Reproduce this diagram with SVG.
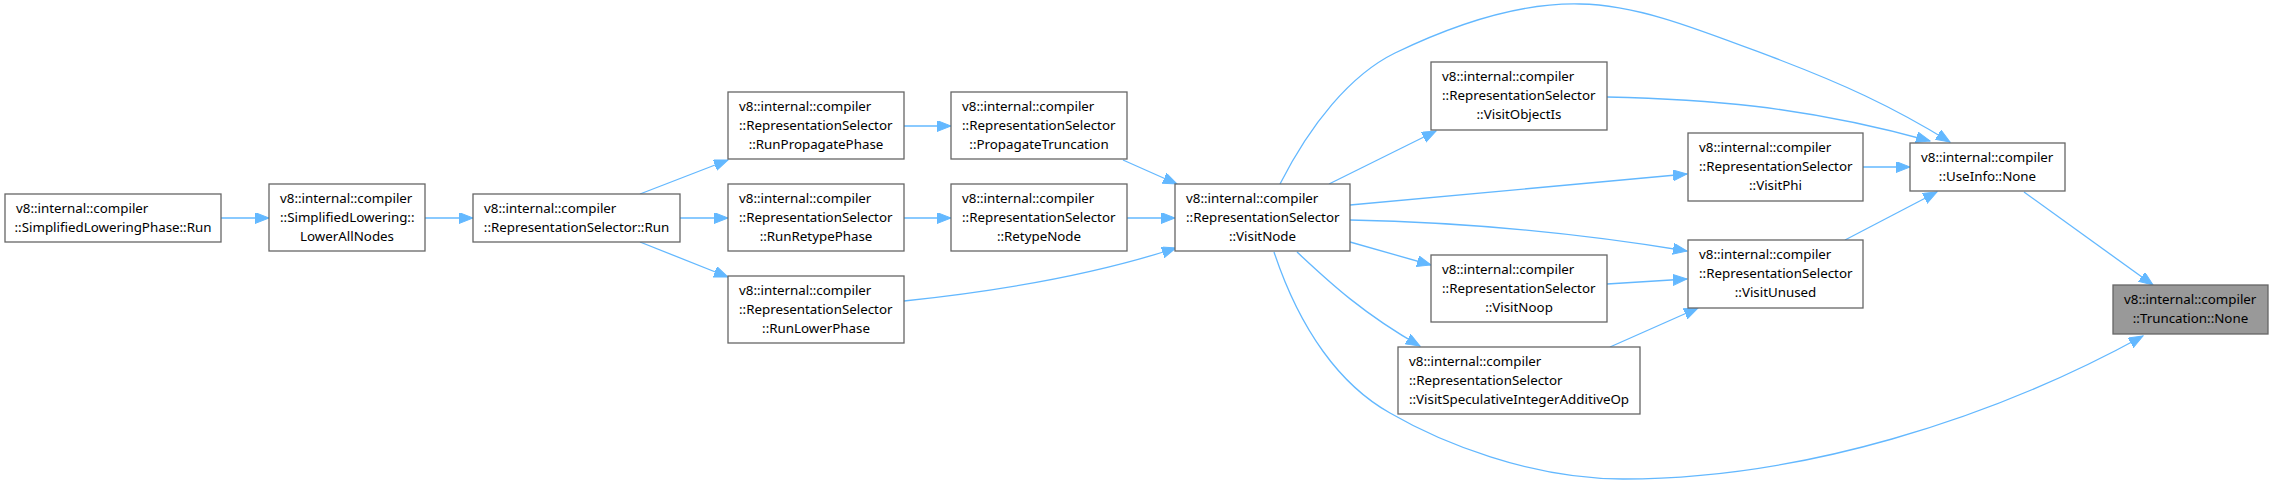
<svg xmlns="http://www.w3.org/2000/svg" width="2273" height="485" viewBox="0 0 2273 485">
<style>
.nd rect{fill:#ffffff;stroke:#666666;stroke-width:1.3}
.nd.tg rect{fill:#999999;stroke:#666666}
.nd text{font-family:"Noto Sans","Open Sans","DejaVu Sans",sans-serif;font-size:13.33px;fill:#000000}
.nd text.c{text-anchor:middle}
.ed path{fill:none;stroke:#63b8ff;stroke-width:1.3;marker-end:url(#ah)}
</style>
<defs>
<marker id="ah" markerUnits="userSpaceOnUse" markerWidth="15" markerHeight="12" refX="14" refY="5.5" orient="auto">
<path d="M0,0 L14,5.5 L0,11 z" fill="#63b8ff" stroke="#63b8ff" stroke-width="1"/>
</marker>
</defs>
<rect width="2273" height="485" fill="#ffffff"/>
<g id="edges" class="ed">
<path d="M221,218 L269,218"/>
<path d="M425,218 L473,218"/>
<path d="M640,194 L728,160"/>
<path d="M680,218 L728,218"/>
<path d="M640,242 L728,277"/>
<path d="M904,126 L951,126"/>
<path d="M904,218 L951,218"/>
<path d="M1123,160 L1177,184"/>
<path d="M1127,218 L1175,218"/>
<path d="M904,301 C990,292 1090,276 1176,248"/>
<path d="M1329,184 L1436,131"/>
<path d="M1280,184 C1310,125 1350,75 1395,53 C1480,12 1540,3 1580,4 C1640,5 1700,30 1780,60 C1840,83 1890,105 1950,142"/>
<path d="M1350,205 L1687,174"/>
<path d="M1350,220 C1450,222 1560,230 1687,251"/>
<path d="M1350,242 L1431,265"/>
<path d="M1297,252 C1325,278 1360,312 1420,346"/>
<path d="M1274,252 C1300,330 1340,385 1390,413 C1440,442 1530,479 1623,479 C1800,479 1990,420 2143,336"/>
<path d="M1607,97 C1700,99 1800,105 1930,141"/>
<path d="M1863,167 L1910,167"/>
<path d="M1845,240 L1937,192"/>
<path d="M1607,284 L1687,279"/>
<path d="M1610,347 L1698,308"/>
<path d="M2024,192 L2153,285"/>
</g>
<g id="n1" class="nd"><rect x="5" y="194" width="216" height="48"/><text x="16" y="212.5">v8::internal::compiler</text><text class="c" x="113" y="231.5">::SimplifiedLoweringPhase::Run</text></g>
<g id="n2" class="nd"><rect x="269" y="184" width="156" height="67"/><text x="280" y="202.5">v8::internal::compiler</text><text x="280" y="221.5">::SimplifiedLowering::</text><text class="c" x="347" y="240.5">LowerAllNodes</text></g>
<g id="n3" class="nd"><rect x="473" y="194" width="207" height="48"/><text x="484" y="212.5">v8::internal::compiler</text><text class="c" x="576.5" y="231.5">::RepresentationSelector::Run</text></g>
<g id="n4" class="nd"><rect x="728" y="92" width="176" height="67"/><text x="739" y="110.5">v8::internal::compiler</text><text x="739" y="129.5">::RepresentationSelector</text><text class="c" x="816" y="148.5">::RunPropagatePhase</text></g>
<g id="n5" class="nd"><rect x="728" y="184" width="176" height="67"/><text x="739" y="202.5">v8::internal::compiler</text><text x="739" y="221.5">::RepresentationSelector</text><text class="c" x="816" y="240.5">::RunRetypePhase</text></g>
<g id="n6" class="nd"><rect x="728" y="276" width="176" height="67"/><text x="739" y="294.5">v8::internal::compiler</text><text x="739" y="313.5">::RepresentationSelector</text><text class="c" x="816" y="332.5">::RunLowerPhase</text></g>
<g id="n7" class="nd"><rect x="951" y="92" width="176" height="67"/><text x="962" y="110.5">v8::internal::compiler</text><text x="962" y="129.5">::RepresentationSelector</text><text class="c" x="1039" y="148.5">::PropagateTruncation</text></g>
<g id="n8" class="nd"><rect x="951" y="184" width="176" height="67"/><text x="962" y="202.5">v8::internal::compiler</text><text x="962" y="221.5">::RepresentationSelector</text><text class="c" x="1039" y="240.5">::RetypeNode</text></g>
<g id="n9" class="nd"><rect x="1175" y="184" width="175" height="67"/><text x="1186" y="202.5">v8::internal::compiler</text><text x="1186" y="221.5">::RepresentationSelector</text><text class="c" x="1262.5" y="240.5">::VisitNode</text></g>
<g id="n10" class="nd"><rect x="1431" y="62" width="176" height="68"/><text x="1442" y="80.5">v8::internal::compiler</text><text x="1442" y="99.5">::RepresentationSelector</text><text class="c" x="1519" y="118.5">::VisitObjectIs</text></g>
<g id="n11" class="nd"><rect x="1688" y="133" width="175" height="68"/><text x="1699" y="151.5">v8::internal::compiler</text><text x="1699" y="170.5">::RepresentationSelector</text><text class="c" x="1775.5" y="189.5">::VisitPhi</text></g>
<g id="n12" class="nd"><rect x="1688" y="240" width="175" height="68"/><text x="1699" y="258.5">v8::internal::compiler</text><text x="1699" y="277.5">::RepresentationSelector</text><text class="c" x="1775.5" y="296.5">::VisitUnused</text></g>
<g id="n13" class="nd"><rect x="1431" y="255" width="176" height="67"/><text x="1442" y="273.5">v8::internal::compiler</text><text x="1442" y="292.5">::RepresentationSelector</text><text class="c" x="1519" y="311.5">::VisitNoop</text></g>
<g id="n14" class="nd"><rect x="1398" y="347" width="242" height="67"/><text x="1409" y="365.5">v8::internal::compiler</text><text x="1409" y="384.5">::RepresentationSelector</text><text class="c" x="1519" y="403.5">::VisitSpeculativeIntegerAdditiveOp</text></g>
<g id="n15" class="nd"><rect x="1910" y="143" width="155" height="48"/><text x="1921" y="161.5">v8::internal::compiler</text><text class="c" x="1987.5" y="180.5">::UseInfo::None</text></g>
<g id="n16" class="nd tg"><rect x="2113" y="285" width="155" height="49"/><text x="2124" y="303.5">v8::internal::compiler</text><text class="c" x="2190.5" y="322.5">::Truncation::None</text></g>
</svg>
